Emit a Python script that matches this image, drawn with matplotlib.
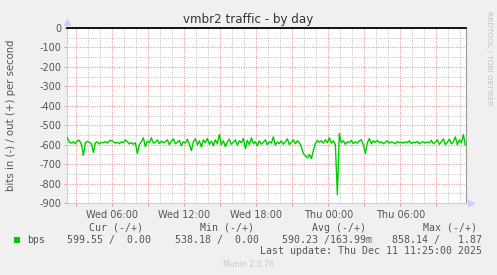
import numpy as np
import matplotlib
matplotlib.use("Agg")
import matplotlib.pyplot as plt
from matplotlib.patches import Rectangle

# samples every 10 minutes, starting Wed 02:15 (hours since Wed 00:00)
start_hour = 2.25
step_hour = 1 / 6

# bits in (shown negative)
bps_in = [
    -565, -588, -592, -585, -595, -580, -578, -598, -655, -590, -583, -588,
    -595, -640, -590, -586, -596, -588, -590, -584, -592, -580, -578, -586,
    -592, -588, -594, -586, -590, -575, -585, -596, -590, -598, -590, -645,
    -600, -585, -565, -610, -582, -590, -565, -592, -588, -575, -595, -582,
    -590, -585, -575, -600, -583, -570, -595, -588, -578, -605, -585, -592,
    -572, -598, -630, -585, -570, -600, -580, -612, -575, -590, -568, -598,
    -582, -605, -575, -595, -548, -600, -580, -610, -585, -572, -598, -588,
    -575, -602, -580, -590, -568, -620, -578, -600, -565, -595, -585, -605,
    -580, -598, -588, -575, -600, -585, -592, -560, -602, -586, -595, -580,
    -598, -585, -570, -600, -588, -575, -595, -580, -590, -612, -645, -658,
    -668, -650, -672, -630, -595, -578, -588, -580, -592, -575, -590, -565,
    -592, -580, -600, -858, -542, -590, -580, -598, -585, -590, -578, -595,
    -585, -592, -580, -575, -600, -645, -590, -568, -595, -580, -588, -578,
    -590, -585, -595, -588, -580, -592, -586, -590, -595, -584, -590, -588,
    -592, -585, -590, -580, -594, -587, -590, -583, -596, -588, -585, -592,
    -586, -590, -578, -595, -588, -575, -598, -585, -570, -600, -588, -572,
    -596, -585, -560, -600, -575, -590, -548, -602,
]

x_ticks = [6, 12, 18, 24, 30]
x_labels = ["Wed 06:00", "Wed 12:00", "Wed 18:00", "Thu 00:00", "Thu 06:00"]
y_ticks = [0, -100, -200, -300, -400, -500, -600, -700, -800, -900]

headers = ["Cur (-/+)", "Min (-/+)", "Avg (-/+)", "Max (-/+)"]
values = ["599.55 /  0.00", "538.18 /  0.00", "590.23 /163.99m", "858.14 /   1.87"]

W, H = 497, 275
BG = "#f0f0f0"
GREEN = "#00cc00"
TXT = "#555555"
MONO = "DejaVu Sans Mono"


def px(x, y):
    # pixel position (from top-left) to figure fraction
    return x / W, 1 - y / H


def main():
    fig = plt.figure(figsize=(W / 100, H / 100), dpi=100, facecolor=BG)
    ax = fig.add_axes([67 / W, 72 / H, (466 - 67) / W, 175 / H])
    ax.set_facecolor("white")

    t = start_hour + step_hour * np.arange(len(bps_in))
    x0, x1 = 2.22, 35.47
    ax.set_xlim(x0, x1)
    ax.set_ylim(-900, 0)

    # grid: minor gray every hour / 50, major red every 3h / 100
    dots = (0, (1, 1.2))
    for h in np.arange(3, 36, 1):
        if h % 3:
            ax.axvline(h, color="#c4c4c4", lw=0.7, ls=dots, zorder=0)
    for v in np.arange(-850, 0, 100):
        ax.axhline(v, color="#c4c4c4", lw=0.7, ls=dots, zorder=0)
    for h in np.arange(3, 36, 3):
        ax.axvline(h, color="#e89a9a", lw=0.8, ls=dots, zorder=1)
    for v in y_ticks[1:-1]:
        ax.axhline(v, color="#e89a9a", lw=0.8, ls=dots, zorder=1)

    ax.plot(t, bps_in, color=GREEN, lw=1.0, zorder=3)
    ax.axhline(0, color="black", lw=1.3, zorder=4, clip_on=False)

    ax.set_xticks(x_ticks)
    ax.set_xticklabels(x_labels)
    ax.set_yticks(y_ticks)
    ax.set_yticklabels([str(v) for v in y_ticks])
    ax.set_xticks(np.arange(3, 36, 3), minor=True)
    ax.tick_params(axis="both", which="both", labelsize=7, colors="#e89a9a",
                   labelcolor=TXT, length=2, width=0.7, pad=2)
    ax.tick_params(axis="x", pad=3)

    ax.spines["top"].set_visible(False)
    ax.spines["left"].set_color("#c8d0f0")
    ax.spines["bottom"].set_color("#c8d0f0")
    ax.spines["right"].set_color("#999999")
    for s in ax.spines.values():
        s.set_linewidth(0.8)

    # axis arrows
    ax.plot([0], [1.035], marker="^", ms=4, color="#c8d0ff", transform=ax.transAxes, clip_on=False)
    ax.plot([1.012], [0], marker=">", ms=4, color="#c8d0ff", transform=ax.transAxes, clip_on=False)

    fig.text(*px(248.5, 19), "vmbr2 traffic - by day", ha="center", va="center",
             fontsize=8.6, color="#333333")
    fig.text(*px(11, 115), "bits in (-) / out (+) per second", rotation=90,
             ha="center", va="center", fontsize=7.3, color=TXT)
    fig.text(*px(489, 58), "RRDTOOL / TOBI OETIKER", rotation=270,
             ha="center", va="center", fontsize=5.3, color="#c0c0c0")

    # legend block
    for x, s in zip([89, 200.3, 312, 422.7], headers):
        fig.text(*px(x, 228), s, ha="left", va="center", family=MONO, fontsize=7.1, color=TXT)
    fig.patches.append(Rectangle(px(14, 243), 6 / W, 6 / H, transform=fig.transFigure,
                                 facecolor=GREEN, edgecolor="none"))
    fig.text(*px(27, 240), "bps", ha="left", va="center", family=MONO, fontsize=7.1, color=TXT)
    for x, s in zip([66.7, 174.7, 282.3, 391.7], values):
        fig.text(*px(x, 240), s, ha="left", va="center", family=MONO, fontsize=7.1, color=TXT)
    fig.text(*px(482, 251.5), "Last update: Thu Dec 11 11:25:00 2025", ha="right",
             va="center", family=MONO, fontsize=7.1, color=TXT)
    fig.text(*px(248.5, 264.5), "Munin 2.0.76", ha="center", va="center",
             fontsize=5.6, color="#c8c8c8")

    fig.savefig("out.png", dpi=100, facecolor=BG)


if __name__ == "__main__":
    main()
